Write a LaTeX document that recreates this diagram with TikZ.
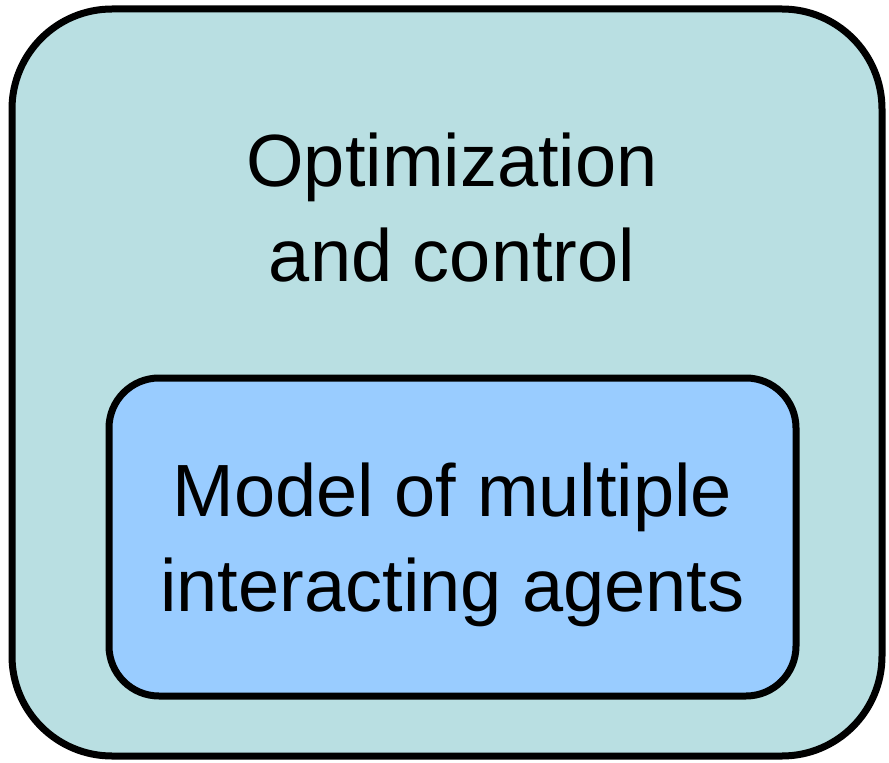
\documentclass[tikz,border=0pt]{standalone}
\usepackage{fontspec}
\setmainfont{Liberation Sans}
\usepackage{tikz}
\usetikzlibrary{positioning}

\definecolor{outerfill}{HTML}{B9DFE2}
\definecolor{innerfill}{HTML}{99CCFF}

\begin{document}
\begin{tikzpicture}[
    frame/.style = {draw, line width=3.5pt, inner sep=0pt, rounded corners=50pt, fill=outerfill},
    box/.style = {draw, line width=3.5pt, inner sep=0pt, rounded corners=25pt, fill=innerfill, align=center},
    big/.style = {font=\fontsize{37}{47.5}\selectfont, align=center}
]
\useasboundingbox (0,0) rectangle (444.5pt,381pt);
\node (ctl) [frame, minimum width=435pt, minimum height=373.5pt] at (223.5pt,189.75pt) {};
\node (model) [box, minimum width=343.5pt, minimum height=159pt] at (226.25pt,112.5pt) {};
\node (agents) [big] at ([yshift=-4pt]model.center) {Model of multiple\\interacting agents};
\node (title) [big] at (226pt,277pt) {Optimization\\and control};
\end{tikzpicture}
\end{document}
